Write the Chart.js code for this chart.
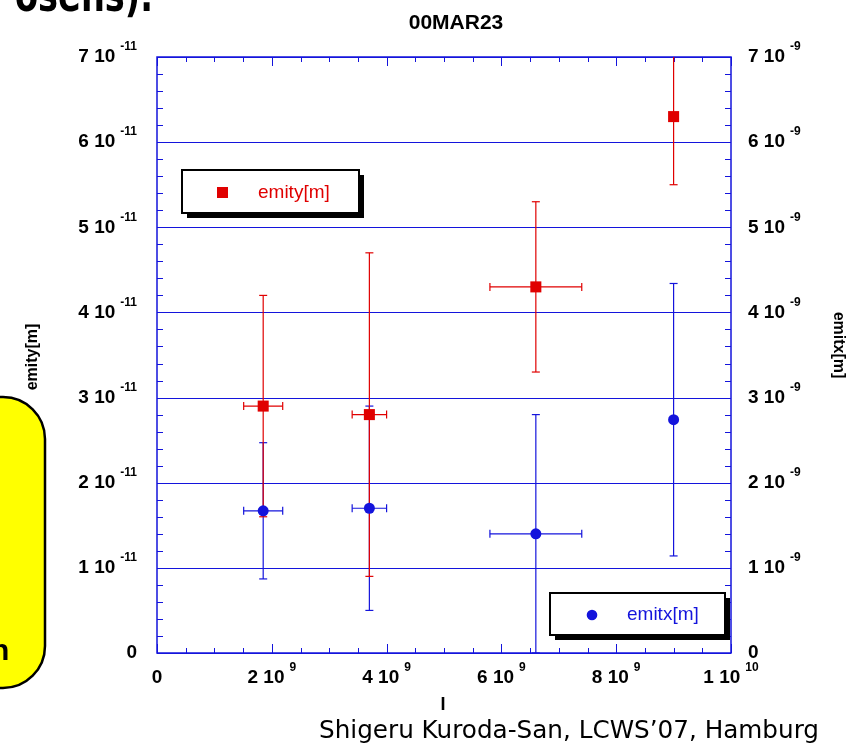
<!DOCTYPE html>
<html>
<head>
<meta charset="utf-8">
<title>00MAR23</title>
<script src="https://cdn.jsdelivr.net/npm/chart.js@4/dist/chart.umd.min.js"></script>
<style>
  body { margin: 0; background: #fff; }
  canvas { display: block; }
</style>
</head>
<body>
<canvas id="emitChart" width="856" height="747"></canvas>
<script>
// beam intensity I and the measured emittances, with errors
const current    = [1.85e9, 3.7e9, 6.6e9, 9.0e9];
const currentErr = [0.34e9, 0.3e9, 0.8e9, 0];
const emity      = [2.9e-11, 2.8e-11, 4.3e-11, 6.3e-11];
const emityErr   = [1.3e-11, 1.9e-11, 1.0e-11, 0.8e-11];
const emitx      = [1.67e-9, 1.7e-9, 1.4e-9, 2.74e-9];
const emitxErr   = [0.8e-9, 1.2e-9, 1.4e-9, 1.6e-9];

// axis ticks (mantissa, exponent)
const yTicks = [0, 1, 2, 3, 4, 5, 6, 7];
const yLeftExp = '-11';
const yRightExp = '-9';
const xTicks = [0, 2e9, 4e9, 6e9, 8e9, 1e10];
const xTickLabels = [['0', ''], ['2', '9'], ['4', '9'], ['6', '9'], ['8', '9'], ['1', '10']];

const BLUE = '#1414dc';
const RED = '#e00000';
const FONT = '"Liberation Sans", Arial, Helvetica, sans-serif';

function line(ctx, x1, y1, x2, y2) {
    ctx.beginPath();
    ctx.moveTo(x1, y1);
    ctx.lineTo(x2, y2);
    ctx.stroke();
}

// "7 10^-11" style label
function drawSci(ctx, mant, exp, x, y, align) {
    const main = exp ? mant + ' 10' : mant;
    ctx.font = 'bold 19px ' + FONT;
    const wm = ctx.measureText(main).width;
    ctx.font = 'bold 12px ' + FONT;
    const we = exp ? ctx.measureText(exp).width + 5 : 0;
    const total = wm + we;
    let x0 = x;
    if (align === 'right') x0 = x - total;
    if (align === 'center') x0 = x - total / 2;
    ctx.textAlign = 'left';
    ctx.textBaseline = 'middle';
    ctx.fillStyle = '#000';
    ctx.font = 'bold 19px ' + FONT;
    ctx.fillText(main, x0, y);
    if (exp) {
        ctx.font = 'bold 12px ' + FONT;
        ctx.fillText(exp, x0 + wm + 5, y - 10);
    }
}

// stuff around the plot (slide background)
const slide = {
    id: 'slide',
    beforeDraw(chart) {
        const ctx = chart.ctx;
        ctx.save();
        ctx.fillStyle = '#fff';
        ctx.fillRect(0, 0, chart.width, chart.height);
        // yellow box on the left
        ctx.beginPath();
        ctx.roundRect(-60, 397, 105, 291, 42);
        ctx.fillStyle = '#ffff00';
        ctx.fill();
        ctx.lineWidth = 2.5;
        ctx.strokeStyle = '#000';
        ctx.stroke();
        ctx.fillStyle = '#000';
        ctx.font = 'bold 30px ' + FONT;
        ctx.textBaseline = 'alphabetic';
        ctx.fillText('n', -9, 660);
        // cut text at the top
        ctx.font = 'bold 46px "Comic Sans MS", "DejaVu Sans", sans-serif';
        const top = 'osens).';
        const tw = ctx.measureText(top).width;
        ctx.translate(15, 11);
        ctx.scale(138 / tw, 1);
        ctx.fillText(top, 0, 0);
        ctx.restore();
    }
};

// grid, frame and tick marks
const frame = {
    id: 'frame',
    beforeDatasetsDraw(chart) {
        const { ctx, chartArea: a, scales: { x, y } } = chart;
        ctx.save();
        ctx.strokeStyle = BLUE;
        ctx.lineWidth = 1;
        yTicks.forEach(v => {
            const py = Math.round(y.getPixelForValue(v * 1e-11)) + 0.5;
            line(ctx, a.left, py, a.right, py);
        });
        // minor ticks on the y sides
        for (let k = 0; k <= 35; k++) {
            const py = Math.round(y.getPixelForValue(k * 0.2e-11)) + 0.5;
            line(ctx, a.left, py, a.left + 6, py);
            line(ctx, a.right - 6, py, a.right, py);
        }
        // ticks on the x sides
        for (let k = 0; k <= 20; k++) {
            const px = Math.round(x.getPixelForValue(k * 0.5e9)) + 0.5;
            const len = k % 4 === 0 ? 9 : 5;
            line(ctx, px, a.bottom, px, a.bottom - len);
            line(ctx, px, a.top, px, a.top + len);
        }
        ctx.lineWidth = 1.5;
        ctx.strokeRect(a.left, a.top, a.right - a.left, a.bottom - a.top);
        ctx.restore();
    }
};

// error bars for both series
const errorBars = {
    id: 'errorBars',
    beforeDatasetsDraw(chart) {
        const { ctx, chartArea: a, scales } = chart;
        const series = [
            { vals: emitx, errs: emitxErr, scale: scales.y2, color: BLUE },
            { vals: emity, errs: emityErr, scale: scales.y, color: RED }
        ];
        ctx.save();
        ctx.beginPath();
        ctx.rect(a.left, a.top, a.right - a.left, a.bottom - a.top);
        ctx.clip();
        ctx.lineWidth = 1.2;
        series.forEach(s => {
            ctx.strokeStyle = s.color;
            current.forEach((c, i) => {
                const px = scales.x.getPixelForValue(c);
                const py = s.scale.getPixelForValue(s.vals[i]);
                const top = s.scale.getPixelForValue(s.vals[i] + s.errs[i]);
                const bot = s.scale.getPixelForValue(s.vals[i] - s.errs[i]);
                line(ctx, px, top, px, bot);
                line(ctx, px - 4, top, px + 4, top);
                line(ctx, px - 4, bot, px + 4, bot);
                if (currentErr[i] > 0) {
                    const l = scales.x.getPixelForValue(c - currentErr[i]);
                    const r = scales.x.getPixelForValue(c + currentErr[i]);
                    line(ctx, l, py, r, py);
                    line(ctx, l, py - 4, l, py + 4);
                    line(ctx, r, py - 4, r, py + 4);
                }
            });
        });
        ctx.restore();
    }
};

function legendBox(ctx, x, y, w, h) {
    ctx.fillStyle = '#000';
    ctx.fillRect(x + 5, y + 5, w, h);
    ctx.fillStyle = '#fff';
    ctx.fillRect(x, y, w, h);
    ctx.lineWidth = 2;
    ctx.strokeStyle = '#000';
    ctx.strokeRect(x, y, w, h);
}

// labels, legends, titles
const labels = {
    id: 'labels',
    afterDraw(chart) {
        const { ctx, chartArea: a, scales: { x, y, y2 } } = chart;
        ctx.save();
        yTicks.forEach(v => {
            drawSci(ctx, String(v), v === 0 ? '' : yLeftExp, 137, y.getPixelForValue(v * 1e-11), 'right');
            drawSci(ctx, String(v), v === 0 ? '' : yRightExp, 748, y2.getPixelForValue(v * 1e-9), 'left');
        });
        xTicks.forEach((v, i) => {
            drawSci(ctx, xTickLabels[i][0], xTickLabels[i][1], x.getPixelForValue(v), 678, 'center');
        });

        // legends
        legendBox(ctx, 182, 170, 177, 43);
        ctx.fillStyle = RED;
        ctx.fillRect(217, 187, 11, 11);
        ctx.font = '19px ' + FONT;
        ctx.textAlign = 'left';
        ctx.textBaseline = 'middle';
        ctx.fillText('emity[m]', 258, 193);

        legendBox(ctx, 550, 593, 175, 42);
        ctx.fillStyle = BLUE;
        ctx.beginPath();
        ctx.arc(592, 615, 5.3, 0, Math.PI * 2);
        ctx.fill();
        ctx.font = '19px ' + FONT;
        ctx.fillText('emitx[m]', 627, 615);

        // titles
        ctx.fillStyle = '#000';
        ctx.textAlign = 'center';
        ctx.font = 'bold 21px ' + FONT;
        ctx.fillText('00MAR23', 456, 23);
        ctx.font = 'bold 18px ' + FONT;
        ctx.fillText('I', 443, 705);

        ctx.font = 'bold 16px ' + FONT;
        ctx.save();
        ctx.translate(33, 357);
        ctx.rotate(-Math.PI / 2);
        ctx.fillText('emity[m]', 0, 0);
        ctx.restore();
        ctx.save();
        ctx.translate(838, 345);
        ctx.rotate(Math.PI / 2);
        ctx.fillText('emitx[m]', 0, 0);
        ctx.restore();

        // credit line, squeezed to its width
        ctx.font = '25px "Comic Sans MS", "DejaVu Sans", sans-serif';
        const credit = 'Shigeru Kuroda-San, LCWS\u201907, Hamburg';
        const cw = ctx.measureText(credit).width;
        ctx.save();
        ctx.translate(319, 731);
        ctx.scale(500 / cw, 1);
        ctx.textAlign = 'left';
        ctx.fillText(credit, 0, 0);
        ctx.restore();
        ctx.restore();
    }
};

new Chart(document.getElementById('emitChart'), {
    type: 'scatter',
    data: {
        datasets: [
            {
                label: 'emity[m]',
                data: current.map((c, i) => ({ x: c, y: emity[i] })),
                yAxisID: 'y',
                pointStyle: 'rect',
                pointRadius: 7.8,
                backgroundColor: RED,
                borderColor: RED,
                borderWidth: 0
            },
            {
                label: 'emitx[m]',
                data: current.map((c, i) => ({ x: c, y: emitx[i] })),
                yAxisID: 'y2',
                pointStyle: 'circle',
                pointRadius: 5.5,
                backgroundColor: BLUE,
                borderColor: BLUE,
                borderWidth: 0
            }
        ]
    },
    options: {
        responsive: false,
        animation: false,
        layout: { padding: { left: 157, top: 57, right: 125, bottom: 94 } },
        plugins: { legend: { display: false }, tooltip: { enabled: false } },
        scales: {
            x: { type: 'linear', min: 0, max: 1e10, display: false },
            y: { type: 'linear', min: 0, max: 7e-11, display: false },
            y2: { type: 'linear', min: 0, max: 7e-9, display: false, position: 'right' }
        }
    },
    plugins: [slide, frame, errorBars, labels]
});
</script>
</body>
</html>
